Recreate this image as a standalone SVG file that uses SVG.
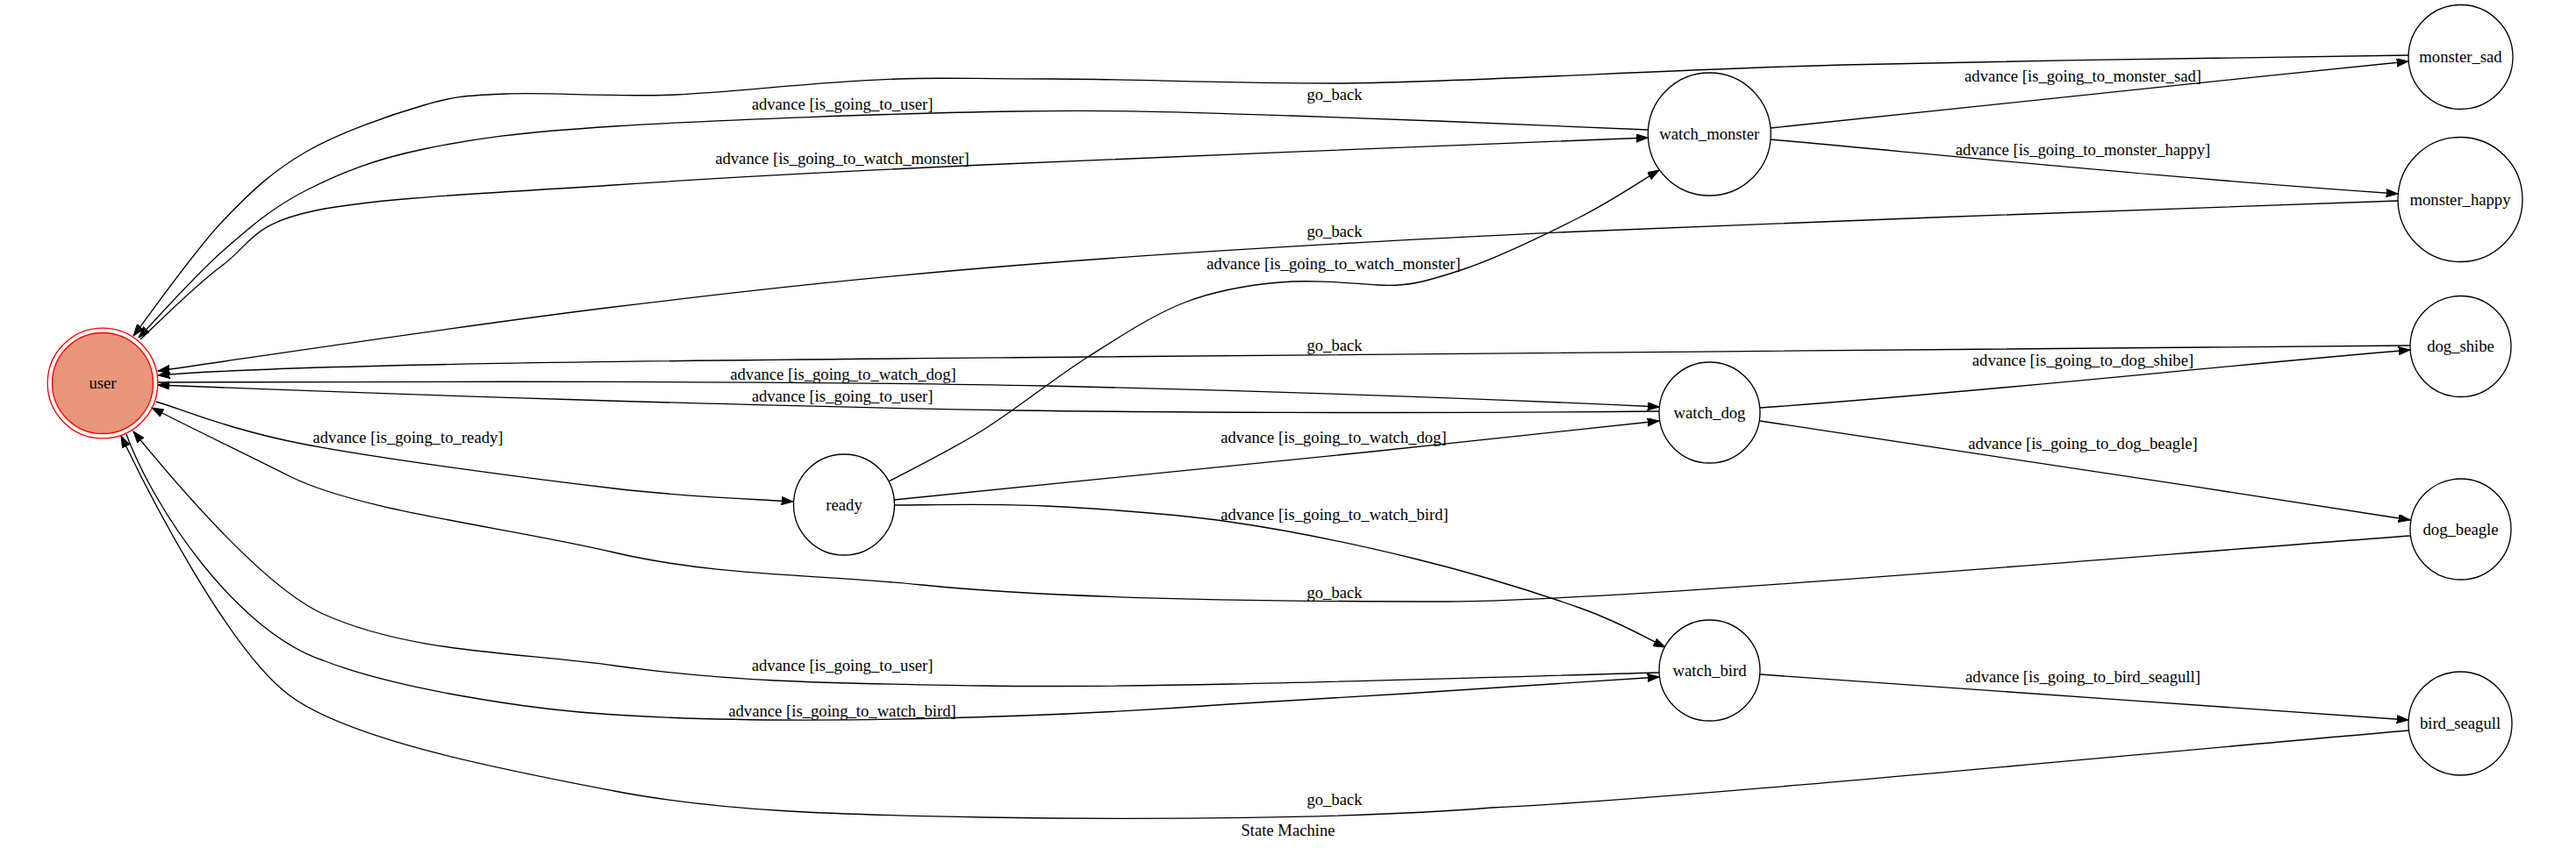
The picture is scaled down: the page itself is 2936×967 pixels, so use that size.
<svg xmlns="http://www.w3.org/2000/svg" width="2936" height="967" viewBox="0 0 2936 967">
<defs>
<marker id="ah" markerUnits="userSpaceOnUse" markerWidth="14" markerHeight="10" refX="13.3" refY="4.67" orient="auto">
<path d="M0,0 L13.3,4.67 L0,9.33 Z" fill="#000" stroke="#000" stroke-width="1"/>
</marker>
<style>
text{font-family:"Liberation Serif","Times New Roman",serif;font-size:18.67px;fill:#000;text-anchor:middle}
.n{fill:#fff;stroke:#000;stroke-width:1.33}
.e{fill:none;stroke:#000;stroke-width:1.33;marker-end:url(#ah)}
</style>
</defs>
<rect width="2936" height="967" fill="#fff"/>
<g id="connectors">
<path class="e" d="M2745,63 C2600,65 2300,69 2100,74 C1900,79 1650,95 1522,95 C1400,95 1280,90 1200,90 C1100,90 1070,88 1023,90 C918,94 844,105 770,108 C696,111 626,105 578,107 C530,109 521,109 483,120 C445,131 387,151 349,173 C311,195 286,218 253,253 C220,288 169,361 152,383"/>
<path class="e" d="M1878,148 C1810.3,145.3 1592.3,135.5 1472,132 C1351.7,128.5 1284.7,125 1156,127 C1027.3,129 812.2,136.8 700,144 C587.8,151.2 541.5,157.8 483,170 C424.5,182.2 387.3,197.5 349,217 C310.7,236.5 284.8,259 253,287 C221.2,315 173.8,368.7 158,385"/>
<path class="e" d="M160,387 C175.5,373 219.7,327.5 253,303 C286.3,278.5 285.5,255.3 360,240 C434.5,224.7 573.2,219.7 700,211 C826.8,202.3 924.7,197 1121,188 C1317.3,179 1751.8,162.2 1878,157"/>
<path class="e" d="M2733,229 C2577.5,234.8 2057,252.2 1800,264 C1543,275.8 1374.3,285.7 1191,300 C1007.7,314.3 868.5,329.5 700,350 C531.5,370.5 266.7,410.8 180,423"/>
<path class="e" d="M1013,549 C1031,539.2 1083.2,513.7 1121,490 C1158.8,466.3 1201.8,431.2 1240,407 C1278.2,382.8 1313.7,359.2 1350,345 C1386.3,330.8 1421.3,325.3 1458,322 C1494.7,318.7 1535,322.5 1570,325 C1605,327.5 1629.7,319.8 1668,307 C1706.3,294.2 1762.8,266.8 1800,248 C1837.2,229.2 1875.8,203 1891,194"/>
<path class="e" d="M2747,394 C2300,398 1700,403 1240,407 C800,411 350,414 180,428"/>
<path class="e" d="M180,436 C500,435 900,434 1191,440 C1450,446 1700,455 1891,464"/>
<path class="e" d="M1891,469 C1600,472 1300,470 1156,468 C850,463 450,450 180,439"/>
<path class="e" d="M178,458 C206.5,466.2 262,490.5 349,507 C436,523.5 607.5,546.2 700,557 C792.5,567.8 870,569.5 904,572"/>
<path class="e" d="M1019,570 C1150,558 1600,512 1891,480"/>
<path class="e" d="M1019,576 C1047.7,576.2 1127.3,573.8 1191,577 C1254.7,580.2 1330.8,585 1401,595 C1471.2,605 1545.5,620.7 1612,637 C1678.5,653.3 1752.3,676.2 1800,693 C1847.7,709.8 1881.7,730.5 1898,738"/>
<path class="e" d="M2747,611 C2447,633 1850,685 1650,686 C1450,686 1201,682.8 1051,667 C934,654.7 817,657.5 700,630 C577,601 410,583 330,543 C270,513 208,483 173,465"/>
<path class="e" d="M1891,767 C1600,775 1300,785 1121,782 C950,779 840,778.6 700,759 C590,743.6 468,745 368,700 C298,668 197,547 152,492"/>
<path class="e" d="M144,495 C175,580 270,720 368,753 C450,785 600,809 700,815 C900,828 1200,818 1401,803 C1550,795 1800,778 1891,772"/>
<path class="e" d="M2745,833 C2400,863 1900,912 1700,921 C1550,933.6 1300,935 1121,932 C950,929 820,925 700,902 C580,879 400,845 330,793 C260,741 168,560 138,497"/>
<path class="e" d="M2018,146 C2250,121 2500,95 2745,70"/>
<path class="e" d="M2018,159 C2300,185 2500,205 2733,221"/>
<path class="e" d="M2006,465 C2250,448 2500,420 2747,399"/>
<path class="e" d="M2006,480 C2250,515 2500,555 2747,593"/>
<path class="e" d="M2006,769 C2250,786 2500,804 2745,821"/>
</g>
<g id="edge-labels">
<text x="1521" y="114">go_back</text>
<text x="2374" y="93">advance [is_going_to_monster_sad]</text>
<text x="960" y="125">advance [is_going_to_user]</text>
<text x="960" y="187">advance [is_going_to_watch_monster]</text>
<text x="2374" y="177">advance [is_going_to_monster_happy]</text>
<text x="1521" y="270">go_back</text>
<text x="1520" y="307">advance [is_going_to_watch_monster]</text>
<text x="1521" y="400">go_back</text>
<text x="2374" y="417">advance [is_going_to_dog_shibe]</text>
<text x="961" y="433">advance [is_going_to_watch_dog]</text>
<text x="960" y="458">advance [is_going_to_user]</text>
<text x="465" y="505">advance [is_going_to_ready]</text>
<text x="1520" y="505">advance [is_going_to_watch_dog]</text>
<text x="2374" y="512">advance [is_going_to_dog_beagle]</text>
<text x="1521" y="593">advance [is_going_to_watch_bird]</text>
<text x="1521" y="682">go_back</text>
<text x="960" y="765">advance [is_going_to_user]</text>
<text x="2374" y="778">advance [is_going_to_bird_seagull]</text>
<text x="960" y="817">advance [is_going_to_watch_bird]</text>
<text x="1521" y="918">go_back</text>
</g>
<g id="user">
<circle cx="117" cy="437" r="62.8" fill="none" stroke="#ff0000" stroke-width="1.33"/>
<circle cx="117" cy="437" r="57.5" fill="#e9967a" stroke="#ff0000" stroke-width="1.33"/>
<text x="117" y="443">user</text>
</g>
<g id="ready"><circle class="n" cx="962" cy="575.5" r="57.5"/><text x="962" y="581.5">ready</text></g>
<g id="watch_monster"><circle class="n" cx="1948.3" cy="153" r="70"/><text x="1948.3" y="159">watch_monster</text></g>
<g id="watch_dog"><circle class="n" cx="1948.5" cy="470.5" r="57.5"/><text x="1948.5" y="476.5">watch_dog</text></g>
<g id="watch_bird"><circle class="n" cx="1948.5" cy="764.5" r="57.5"/><text x="1948.5" y="770.5">watch_bird</text></g>
<g id="monster_sad"><circle class="n" cx="2804.5" cy="65" r="59.5"/><text x="2804.5" y="71">monster_sad</text></g>
<g id="monster_happy"><circle class="n" cx="2804" cy="227.5" r="71"/><text x="2804" y="233.5">monster_happy</text></g>
<g id="dog_shibe"><circle class="n" cx="2804.5" cy="395" r="57.5"/><text x="2804.5" y="401">dog_shibe</text></g>
<g id="dog_beagle"><circle class="n" cx="2804.5" cy="603.5" r="57.5"/><text x="2804.5" y="609.5">dog_beagle</text></g>
<g id="bird_seagull"><circle class="n" cx="2804" cy="825" r="59"/><text x="2804" y="831">bird_seagull</text></g>
<text x="1468" y="953">State Machine</text>
</svg>
